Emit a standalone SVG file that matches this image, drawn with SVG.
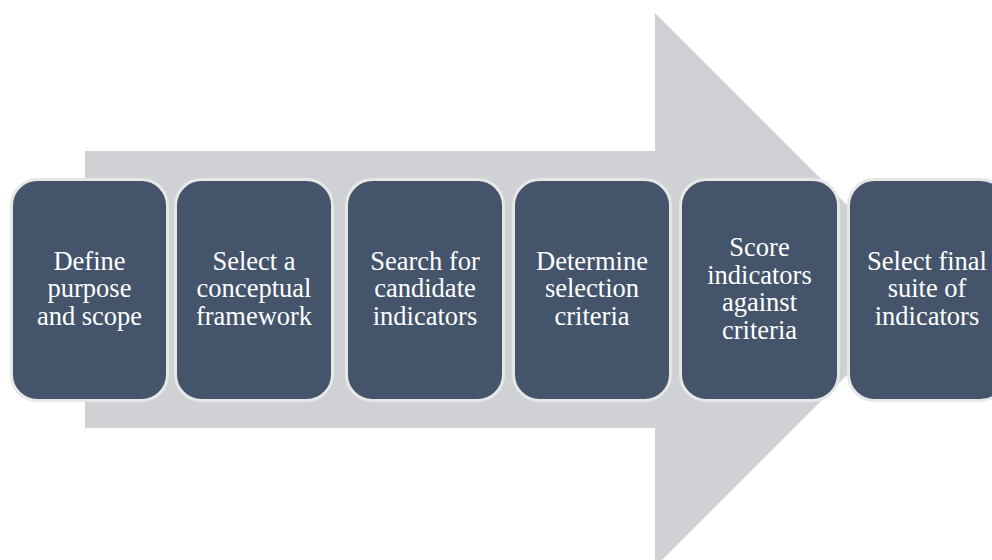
<svg xmlns="http://www.w3.org/2000/svg" width="992" height="560" viewBox="0 0 992 560">
<style>
.box{fill:#44546A;stroke:#E7E7E7;stroke-width:3}
.lbl{font-family:"Liberation Serif","Times New Roman",serif;font-size:26.5px;fill:#FFFFFF;text-anchor:middle}
</style>
<rect width="992" height="560" fill="#FFFFFF"/>
<g id="connectors">
<polygon id="arrow" points="85,151 655,151 655,13 932,290 655,567 655,428 85,428" fill="#D0D1D5"/>
</g>
<g id="n1"><rect class="box" x="11.5" y="179.5" width="156" height="221" rx="26"/>
<text class="lbl"><tspan x="89.5" y="269.5">Define</tspan><tspan x="89.5" y="297">purpose</tspan><tspan x="89.5" y="324.5">and scope</tspan></text></g>
<g id="n2"><rect class="box" x="175.5" y="179.5" width="157" height="221" rx="26"/>
<text class="lbl"><tspan x="254" y="269.5">Select a</tspan><tspan x="254" y="297">conceptual</tspan><tspan x="254" y="324.5">framework</tspan></text></g>
<g id="n3"><rect class="box" x="346.5" y="179.5" width="157" height="221" rx="26"/>
<text class="lbl"><tspan x="425" y="269.5">Search for</tspan><tspan x="425" y="297">candidate</tspan><tspan x="425" y="324.5">indicators</tspan></text></g>
<g id="n4"><rect class="box" x="513.5" y="179.5" width="157" height="221" rx="26"/>
<text class="lbl"><tspan x="592" y="269.5">Determine</tspan><tspan x="592" y="297">selection</tspan><tspan x="592" y="324.5">criteria</tspan></text></g>
<g id="n5"><rect class="box" x="680.5" y="179.5" width="158" height="221" rx="26"/>
<text class="lbl"><tspan x="759.5" y="256">Score</tspan><tspan x="759.5" y="283.5">indicators</tspan><tspan x="759.5" y="311">against</tspan><tspan x="759.5" y="338.5">criteria</tspan></text></g>
<g id="n6"><rect class="box" x="848.5" y="179.5" width="158" height="221" rx="26"/>
<text class="lbl"><tspan x="927" y="269.5">Select final</tspan><tspan x="927" y="297">suite of</tspan><tspan x="927" y="324.5">indicators</tspan></text></g>
</svg>
